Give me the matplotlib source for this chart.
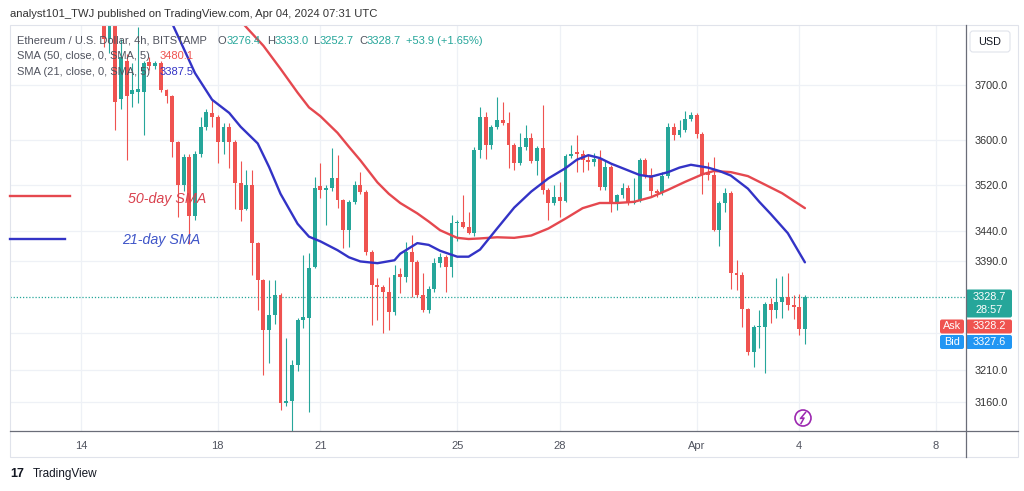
import matplotlib
matplotlib.use('Agg')
import matplotlib.pyplot as plt
from matplotlib.patches import Rectangle, FancyBboxPatch, Circle
from matplotlib.ticker import NullLocator
import numpy as np

W, H = 1024, 491

# 4h candles, first visible bar = Mar 14 16:00 UTC, last = Apr 4 04:00 UTC
opens = [3880, 3785, 3850, 3675, 3745, 3684, 3688, 3687, 3742, 3735,
         3740, 3691, 3679, 3597, 3520, 3570, 3466, 3576, 3624, 3648,
         3641, 3597, 3624, 3597, 3524, 3478, 3521, 3420, 3358, 3275,
         3300, 3333, 3158, 3161, 3219, 3292, 3295, 3380, 3518, 3512,
         3516, 3533, 3494, 3442, 3491, 3520, 3508, 3405, 3350, 3346,
         3337, 3305, 3368, 3362, 3405, 3388, 3333, 3308, 3343, 3386,
         3396, 3380, 3454, 3456, 3448, 3437, 3582, 3641, 3591, 3623,
         3636, 3631, 3591, 3559, 3588, 3604, 3563, 3586, 3512, 3489,
         3499, 3493, 3571, 3578, 3576, 3564, 3561, 3566, 3517, 3552,
         3487, 3503, 3515, 3489, 3493, 3564, 3538, 3510, 3506, 3536,
         3623, 3609, 3618, 3638, 3645, 3611, 3543, 3538, 3442, 3489,
         3506, 3370, 3366, 3310, 3240, 3280, 3280, 3318, 3308, 3321,
         3330, 3316, 3313, 3276.4]
highs = [3900, 3870, 3860, 3786, 3758, 3740, 3808, 3745, 3752, 3745,
         3745, 3692, 3681, 3598, 3575, 3575, 3580, 3642, 3656, 3672,
         3645, 3630, 3630, 3600, 3562, 3547, 3547, 3422, 3360, 3358,
         3358, 3336, 3262, 3227, 3295, 3400, 3404, 3534, 3559, 3520,
         3586, 3573, 3496, 3495, 3527, 3543, 3512, 3408, 3361, 3350,
         3363, 3383, 3378, 3422, 3434, 3392, 3370, 3348, 3395, 3403,
         3400, 3468, 3460, 3503, 3474, 3588, 3660, 3650, 3628, 3678,
         3669, 3650, 3595, 3613, 3627, 3613, 3590, 3663, 3515, 3520,
         3526, 3575, 3591, 3609, 3582, 3573, 3577, 3582, 3564, 3556,
         3505, 3524, 3520, 3533, 3568, 3568, 3551, 3514, 3543, 3631,
         3631, 3636, 3652, 3650, 3648, 3614, 3561, 3570, 3492, 3515,
         3510, 3391, 3371, 3312, 3284, 3308, 3322, 3328, 3361, 3365,
         3370, 3333, 3335, 3333.0]
lows = [3770, 3760, 3618, 3657, 3565, 3660, 3667, 3609, 3728, 3730,
        3688, 3667, 3570, 3465, 3510, 3418, 3460, 3570, 3618, 3623,
        3559, 3576, 3551, 3478, 3458, 3476, 3366, 3308, 3203, 3222,
        3285, 3148, 3154, 3060, 3209, 3278, 3145, 3378, 3498, 3451,
        3510, 3480, 3411, 3413, 3488, 3505, 3400, 3284, 3292, 3270,
        3275, 3300, 3336, 3355, 3330, 3330, 3305, 3303, 3338, 3380,
        3337, 3363, 3423, 3445, 3435, 3432, 3568, 3567, 3584, 3620,
        3628, 3551, 3547, 3555, 3582, 3560, 3538, 3505, 3460, 3485,
        3465, 3490, 3568, 3543, 3543, 3547, 3553, 3512, 3512, 3474,
        3477, 3497, 3485, 3487, 3490, 3533, 3499, 3499, 3503, 3532,
        3600, 3606, 3615, 3634, 3604, 3505, 3530, 3440, 3415, 3474,
        3343, 3341, 3280, 3235, 3216, 3246, 3206, 3287, 3295, 3295,
        3308, 3293, 3267, 3252.7]
closes = [3785, 3850, 3668, 3752, 3680, 3690, 3692, 3741, 3735, 3740,
          3691, 3679, 3597, 3520, 3570, 3466, 3576, 3624, 3651, 3641,
          3597, 3624, 3597, 3524, 3477, 3521, 3420, 3358, 3275, 3300,
          3333, 3158, 3161, 3219, 3292, 3296, 3378, 3515, 3512, 3516,
          3533, 3494, 3442, 3491, 3520, 3508, 3405, 3350, 3346, 3337,
          3305, 3366, 3362, 3405, 3388, 3333, 3308, 3343, 3386, 3396,
          3380, 3454, 3456, 3448, 3437, 3582, 3641, 3591, 3623, 3636,
          3631, 3591, 3559, 3588, 3604, 3563, 3586, 3512, 3489, 3499,
          3493, 3571, 3576, 3575, 3564, 3561, 3566, 3517, 3552, 3487,
          3503, 3515, 3489, 3493, 3564, 3538, 3510, 3506, 3536, 3623,
          3609, 3618, 3638, 3645, 3611, 3538, 3538, 3442, 3489, 3506,
          3370, 3366, 3310, 3240, 3280, 3282, 3318, 3308, 3321, 3330,
          3316, 3313, 3276.4, 3328.7]

# moving averages (bar index, value)
sma50_idx = [22, 25, 28, 31, 34, 36, 38, 41, 43, 45, 48, 50, 52, 55, 57,
             59, 62, 64, 66, 69, 72, 75, 78, 81, 84, 87, 90, 93, 96, 99,
             102, 105, 107, 110, 113, 116, 119, 123]
sma50_val = [3845, 3808, 3773, 3730, 3686, 3659, 3643, 3613, 3588, 3564,
             3525, 3505, 3489, 3471, 3457, 3442, 3429, 3427, 3428, 3430,
             3429, 3433, 3445, 3462, 3480, 3489, 3489, 3491, 3499, 3512,
             3526, 3539, 3545, 3543, 3536, 3521, 3506, 3480.1]
sma21_idx = [10, 12, 16, 19, 22, 24, 27, 29, 31, 34, 36, 38, 41, 43, 45,
             48, 51, 52, 55, 57, 59, 62, 64, 66, 69, 72, 75, 78, 81, 83,
             85, 87, 89, 92, 94, 96, 99, 101, 103, 106, 108, 110, 113, 115,
             117, 120, 123]
sma21_val = [3880, 3815, 3722, 3673, 3649, 3624, 3594, 3552, 3505, 3453,
             3431, 3423, 3408, 3396, 3389, 3386, 3391, 3402, 3420, 3417,
             3407, 3397, 3397, 3409, 3445, 3481, 3509, 3532, 3550, 3565,
             3573, 3568, 3558, 3546, 3538, 3535, 3543, 3551, 3556, 3551,
             3545, 3537, 3514, 3491, 3470, 3437, 3387.5]

price_ticks = [3160, 3210, 3390, 3440, 3520, 3600, 3700]
grid_prices = price_ticks + [3270]
day_ticks = [0, 4, 7, 11, 14, 18, 21, 25]       # days after Mar 14
day_labels = ['14', '18', '21', '25', '28', 'Apr', '4', '8']
first_bar_day = 2 / 3
bars_per_day = 6
last_price = 3328.7
ask_price = 3328.2
bid_price = 3327.6

UP = '#26a69a'
DOWN = '#ef5350'
RED_SMA = '#e5484f'
BLUE_SMA = '#3333c6'
GRID = '#eef1f6'
TXT = '#50535e'
FONT = 'Liberation Sans'

plt.rcParams['font.family'] = [FONT, 'DejaVu Sans']

fig = plt.figure(figsize=(W / 100, H / 100), dpi=100)
fig.patch.set_facecolor('white')

ax = fig.add_axes([10 / W, 1 - 431 / H, 956 / W, 406 / H])
ax.set_yscale('log')
ax.set_ylim(3114.7, 3812.2)
ax.set_xlim(-2.076, 25.877)
ax.yaxis.set_minor_locator(NullLocator())
ax.set_facecolor('white')

for p in grid_prices:
    ax.axhline(p, color=GRID, lw=0.9, zorder=0)
for d in day_ticks:
    ax.axvline(d, color=GRID, lw=0.9, zorder=0)

o = np.array(opens)
c = np.array(closes)
x = first_bar_day + np.arange(len(o)) / bars_per_day
colors = np.where(c >= o, UP, DOWN)
ax.vlines(x, lows, highs, colors=colors, lw=0.8, zorder=3)
ax.bar(x, np.maximum(np.abs(c - o), 0.8), bottom=np.minimum(o, c),
       width=0.7 / bars_per_day, color=colors, lw=0, zorder=4)

ax.plot(first_bar_day + np.array(sma50_idx) / bars_per_day, sma50_val,
        color=RED_SMA, lw=1.7, zorder=5, solid_capstyle='round', solid_joinstyle='round')
ax.plot(first_bar_day + np.array(sma21_idx) / bars_per_day, sma21_val,
        color=BLUE_SMA, lw=1.7, zorder=5, solid_capstyle='round', solid_joinstyle='round')

ax.axhline(last_price, color=UP, lw=0.9, ls=(0, (1, 1.5)), zorder=2)

for s in ax.spines.values():
    s.set_visible(False)
ax.yaxis.tick_right()
ax.set_yticks(price_ticks, [f'{p:.1f}' for p in price_ticks])
ax.set_xticks(day_ticks, day_labels)
ax.tick_params(axis='y', length=0, pad=6, labelsize=7.8, labelcolor='#333333')
ax.tick_params(axis='x', length=0, pad=7, labelsize=8, labelcolor=TXT)

# overlay in pixel coordinates for the TradingView furniture
ov = fig.add_axes([0, 0, 1, 1], zorder=10)
ov.set_xlim(0, W)
ov.set_ylim(H, 0)
ov.axis('off')
ov.patch.set_alpha(0)


def price_px(p):
    return H - ax.transData.transform((0, p))[1]


ov.add_patch(Rectangle((10, 25), 1008, 432, fill=False, ec='#e0e3eb', lw=0.8))
ov.plot([10, 1018], [431, 431], color='#6a6d78', lw=0.9)
ov.plot([966, 966], [25, 457], color='#6a6d78', lw=0.9)

ov.add_patch(FancyBboxPatch((970, 31), 40, 21, boxstyle='round,pad=0,rounding_size=3',
                            fc='white', ec='#e0e3eb', lw=0.8))
ov.text(990, 41.5, 'USD', ha='center', va='center', fontsize=7.8, color='#131722')

py = price_px(last_price)
ov.add_patch(FancyBboxPatch((966, py - 8), 46, 28, boxstyle='round,pad=0,rounding_size=2',
                            fc=UP, ec='none'))
ov.text(989, py, f'{last_price:.1f}', ha='center', va='center', fontsize=7.8, color='white')
ov.text(989, py + 13, '28:57', ha='center', va='center', fontsize=7.8, color='white')

for lbl, val, col, top in [('Ask', ask_price, '#ef5350', py + 22),
                           ('Bid', bid_price, '#2196f3', py + 37.5)]:
    ov.add_patch(FancyBboxPatch((966, top), 46, 14, boxstyle='round,pad=0,rounding_size=2',
                                fc=col, ec='none'))
    ov.text(989, top + 7, f'{val:.1f}', ha='center', va='center', fontsize=7.8, color='white')
    ov.add_patch(FancyBboxPatch((940, top), 24, 14, boxstyle='round,pad=0,rounding_size=2',
                                fc=col, ec='none'))
    ov.text(952, top + 7, lbl, ha='center', va='center', fontsize=7.8, color='white')

# lightning icon
ov.add_patch(Circle((803, 418), 8, fill=False, ec='#9c27b0', lw=1.2))
ov.plot([805.5, 800.5, 804, 801], [412.5, 418.5, 418, 423.5], color='#9c27b0', lw=1.1)

# legend drawn on the chart
ov.plot([10, 70], [196, 196], color=RED_SMA, lw=1.7)
ov.plot([10, 65], [239, 239], color=BLUE_SMA, lw=1.7)
ov.text(128, 199, '50-day SMA', ha='left', va='center', fontsize=10.3,
        style='italic', color='#d9414e')
ov.text(122, 240, '21-day SMA', ha='left', va='center', fontsize=10.3,
        style='italic', color='#3f55c8')

# header texts
ov.text(10, 14, 'analyst101_TWJ published on TradingView.com, Apr 04, 2024 07:31 UTC',
        ha='left', va='center', fontsize=8.1, color='#333333')
ov.text(17, 40.5, 'Ethereum / U.S. Dollar, 4h, BITSTAMP', ha='left', va='center',
        fontsize=8, color=TXT)
for lx, letter, gap, num in [(218, 'O', 8.5, '3276.4'), (267, 'H', 8, '3333.0'),
                             (313, 'L', 6.5, '3252.7'), (359, 'C', 8, '3328.7')]:
    ov.text(lx, 40.5, letter, ha='left', va='center', fontsize=8, color=TXT)
    ov.text(lx + gap, 40.5, num, ha='left', va='center', fontsize=8, color=UP)
ov.text(406, 40.5, '+53.9 (+1.65%)', ha='left', va='center', fontsize=8, color=UP)
ov.text(17, 56, 'SMA (50, close, 0, SMA, 5)', ha='left', va='center', fontsize=8, color=TXT)
ov.text(160, 56, '3480.1', ha='left', va='center', fontsize=8, color='#ef5350')
ov.text(17, 72, 'SMA (21, close, 0, SMA, 5)', ha='left', va='center', fontsize=8, color=TXT)
ov.text(160, 72, '3387.5', ha='left', va='center', fontsize=8, color=BLUE_SMA)

# footer logo
ov.text(10, 474, '17', ha='left', va='center', fontsize=9, fontweight='bold', color='#131722')
ov.text(33, 474, 'TradingView', ha='left', va='center', fontsize=8.5, color='#131722')

fig.savefig('out.png', dpi=100)
